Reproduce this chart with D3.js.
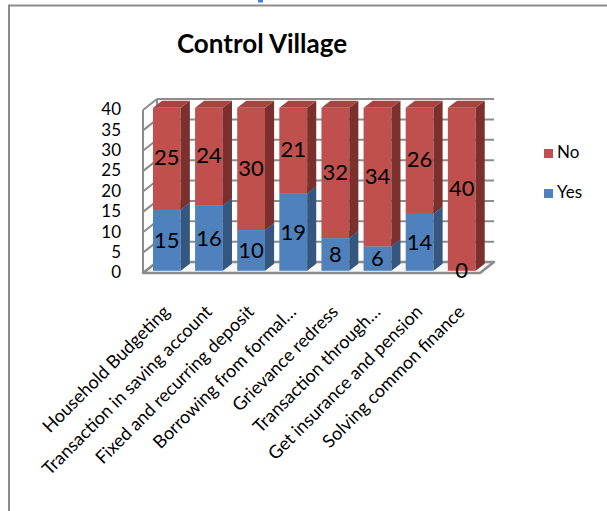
<!DOCTYPE html>
<html><head><meta charset="utf-8">
<script src="https://cdn.jsdelivr.net/npm/d3@7"></script>
<style>body{margin:0;background:#fff}svg{display:block}text{font-family:Lato,"Open Sans",sans-serif}</style>
</head><body><div id="c"></div>
<script>
const categories = ["Household Budgeting","Transaction in saving account","Fixed and recurring deposit","Borrowing from formal…","Grievance redress","Transaction through…","Get insurance and pension","Solving common finance"];
const yesValues = [15,16,10,19,8,6,14,0];
const noValues = [25,24,30,21,32,34,26,40];
const yTicks = [0,5,10,15,20,25,30,35,40];
const seriesNames = ["No","Yes"];
const title = "Control Village";

const W=607,H=511;
const svg=d3.select("#c").append("svg").attr("width",W).attr("height",H);

// frame
svg.append("line").attr("x1",8).attr("x2",W).attr("y1",5.5).attr("y2",5.5).attr("stroke","#8c8c8c").attr("stroke-width",2);
svg.append("line").attr("x1",9).attr("x2",9).attr("y1",5).attr("y2",H).attr("stroke","#8c8c8c").attr("stroke-width",2);
svg.append("rect").attr("x",258).attr("y",0).attr("width",5).attr("height",2.5).attr("fill","#4a7fd0");

svg.append("text").attr("x",262).attr("y",53).attr("text-anchor","middle").attr("font-weight","bold").attr("font-size",26).text(title);

const y=d3.scaleLinear().domain([0,40]).range([273,110]);
const x=d3.scaleBand().domain(categories).range([143,480]).paddingInner(0.34).paddingOuter(0.17);
const DX=14, DY=-11;
const grid="#8c8c8c";

// floor
const x0=143,x1=480;
svg.append("path").attr("d",`M${x0},${y(0)}L${x1},${y(0)}L${x1+DX},${y(0)+DY}L${x0+DX},${y(0)+DY}Z`)
  .attr("fill","#f7f7f7").attr("stroke",grid).attr("stroke-width",2.5).attr("stroke-linejoin","round");
// back wall gridlines & side wall lines
yTicks.forEach(v=>{
  svg.append("line").attr("x1",x0+DX).attr("x2",x1+DX).attr("y1",y(v)+DY).attr("y2",y(v)+DY).attr("stroke",grid).attr("stroke-width",2);
  svg.append("line").attr("x1",x0).attr("x2",x0+DX).attr("y1",y(v)).attr("y2",y(v)+DY).attr("stroke",grid).attr("stroke-width",2);
});
svg.append("line").attr("x1",x0).attr("x2",x0).attr("y1",y(40)).attr("y2",y(0)).attr("stroke",grid).attr("stroke-width",2);
svg.append("line").attr("x1",x0+DX).attr("x2",x0+DX).attr("y1",y(40)+DY).attr("y2",y(0)+DY).attr("stroke",grid).attr("stroke-width",2);

// y labels
svg.append("g").selectAll("text").data(yTicks).join("text")
  .attr("x",121).attr("y",d=>y(d)+1).attr("text-anchor","end").attr("dominant-baseline","middle")
  .attr("font-size",17).text(d=>d);

const f0=0.2,f1=0.85;
const ox=DX*f0, oy=DY*f0, bx=DX*(f1-f0), by=DY*(f1-f0);
const colors={Yes:{front:"#4f81bd",side:"#35577f",top:"#4470a6"},No:{front:"#c0504d",side:"#7c302e",top:"#a64440"}};

function seg(g,xl,v0,v1,c){
  const w=x.bandwidth();
  const yt=y(v1)+oy, yb=y(v0)+oy, xa=xl+ox;
  g.append("rect").attr("x",xa).attr("y",yt).attr("width",w).attr("height",yb-yt).attr("fill",c.front);
  g.append("path").attr("d",`M${xa+w},${yt}L${xa+w+bx},${yt+by}L${xa+w+bx},${yb+by}L${xa+w},${yb}Z`).attr("fill",c.side);
  g.append("path").attr("d",`M${xa},${yt}L${xa+bx},${yt+by}L${xa+w+bx},${yt+by}L${xa+w},${yt}Z`).attr("fill",c.top);
}
const bars=svg.append("g");
categories.forEach((cat,i)=>{
  const g=bars.append("g");
  const xl=x(cat);
  if(yesValues[i]>0) seg(g,xl,0,yesValues[i],colors.Yes);
  seg(g,xl,yesValues[i],yesValues[i]+noValues[i],colors.No);
});
// data labels
const lab=svg.append("g").attr("font-size",22);
categories.forEach((cat,i)=>{
  const cx=x(cat)+x.bandwidth()/2+ox;
  const yv=yesValues[i], nv=noValues[i];
  lab.append("text").attr("x",cx).attr("y",(y(0)+y(yv))/2+oy+2).attr("text-anchor","middle").attr("dominant-baseline","middle").text(yv);
  lab.append("text").attr("x",cx).attr("y",(y(yv)+y(yv+nv))/2+oy+1).attr("text-anchor","middle").attr("dominant-baseline","middle").text(nv);
});
// category labels
svg.append("g").selectAll("text").data(categories).join("text")
  .attr("transform",d=>`translate(${x(d)+x.bandwidth()/2+ox+4},${313}) rotate(-45)`)
  .attr("text-anchor","end").attr("font-size",18).text(d=>d);

// legend
const leg=svg.append("g");
[["No",colors.No.front,149],["Yes",colors.Yes.front,189]].forEach(([n,c,yy])=>{
  leg.append("rect").attr("x",544).attr("y",yy).attr("width",9).attr("height",9).attr("fill",c);
  leg.append("text").attr("x",557).attr("y",yy+5).attr("dominant-baseline","middle").attr("font-size",17).text(n);
});
</script></body></html>
